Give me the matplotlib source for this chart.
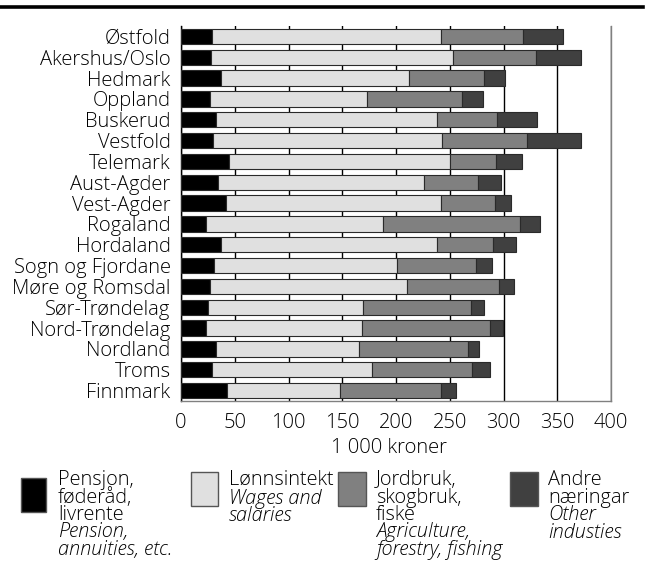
import numpy as np
import matplotlib as mpl
mpl.use('Agg')
from matplotlib import pyplot as plt
from matplotlib.patches import Rectangle
from matplotlib.lines import Line2D

plt.rcParams['font.family'] = ['Open Sans', 'DejaVu Sans']
plt.rcParams['font.weight'] = 'light'

# fylke, fra topp til botn
fylke = ['Østfold', 'Akershus/Oslo', 'Hedmark', 'Oppland', 'Buskerud', 'Vestfold',
         'Telemark', 'Aust-Agder', 'Vest-Agder', 'Rogaland', 'Hordaland',
         'Sogn og Fjordane', 'Møre og Romsdal', 'Sør-Trøndelag', 'Nord-Trøndelag',
         'Nordland', 'Troms', 'Finnmark']

# 1 000 kroner
pensjon = [29, 28, 37, 27, 33, 30, 45, 34, 42, 23, 37, 31, 27, 25, 23, 33, 29, 43]
lonn = [212.5, 225, 175, 146, 205.5, 213, 205.5, 192.5, 200, 165, 201, 170, 183.5,
        144, 145, 133, 149, 105]
jordbruk = [77, 77, 70, 88, 55, 79, 42.5, 50, 50, 127, 52, 73, 85, 101, 119, 101, 92.5, 93.5]
andre = [37, 42, 19, 20, 38, 50, 24, 21, 15, 19, 21.5, 15, 14, 12, 12.5, 10, 17, 14]

serie_namn = ['Pensjon,\nføderåd,\nlivrente', 'Lønnsintekt',
              'Jordbruk,\nskogbruk,\nfiske', 'Andre\nnæringar']
serie_eng = ['Pension,\nannuities, etc.', 'Wages and\nsalaries',
             'Agriculture,\nforestry, fishing', 'Other\nindusties']
fargar = ['#000000', '#e0e0e0', '#808080', '#404040']

xticks = [0, 50, 100, 150, 200, 250, 300, 350, 400]

W, H = 648, 563
fig = plt.figure(figsize=(W / 100, H / 100), dpi=100)
ax = fig.add_axes([181 / W, 1 - 401 / H, (611 - 181) / W, (401 - 26) / H])

y = np.arange(len(fylke))
venstre = np.zeros(len(fylke))
for verdi, farge in zip([pensjon, lonn, jordbruk, andre], fargar):
    ax.barh(y, verdi, left=venstre, height=0.74, color=farge,
            edgecolor='#2a2a2a', linewidth=0.8, zorder=3)
    venstre = venstre + np.array(verdi)

ax.set_ylim(len(fylke) - 0.5, -0.5)
ax.set_xlim(0, 400)
ax.set_yticks(y)
ax.set_yticklabels(fylke, fontsize=14.5)
ax.set_xticks(xticks)
ax.set_xticklabels([str(t) for t in xticks], fontsize=14.5)
ax.tick_params(axis='both', length=0)
ax.tick_params(axis='y', pad=7.5)
ax.tick_params(axis='x', pad=9)
ax.xaxis.grid(True, color='black', linewidth=1, zorder=0)
ax.set_axisbelow(True)

ax.spines['top'].set_visible(False)
ax.spines['right'].set_color('#808080')
ax.spines['bottom'].set_color('#808080')
ax.spines['left'].set_color('black')
for s in ax.spines.values():
    s.set_linewidth(1)

fig.text(389 / W, 1 - 448 / H, '1 000 kroner', ha='center', va='center', fontsize=14.5)

# strek øvst
fig.add_artist(Line2D([0, 643 / W], [1 - 7 / H, 1 - 7 / H], color='black', linewidth=2.6))

# teiknforklaring
boks_x = [21, 191, 338, 510]
boks_w = [25, 27, 28, 28]
boks_y = [478, 472, 472, 472]
tekst_x = [58, 229, 376, 548]
linje = 16.7
for i in range(4):
    fig.add_artist(Rectangle((boks_x[i] / W, 1 - (boks_y[i] + 34) / H), boks_w[i] / W, 34 / H,
                             facecolor=fargar[i], edgecolor='#555555', linewidth=1,
                             transform=fig.transFigure))
    n = serie_namn[i].count('\n') + 1
    fig.text(tekst_x[i] / W, 1 - 470 / H, serie_namn[i], ha='left', va='top',
             fontsize=14.3, linespacing=0.85)
    fig.text(tekst_x[i] / W, 1 - (472 + n * linje) / H, serie_eng[i], ha='left', va='top',
             fontsize=14.3, linespacing=0.85, style='italic')

plt.savefig('out.png', dpi=100)
